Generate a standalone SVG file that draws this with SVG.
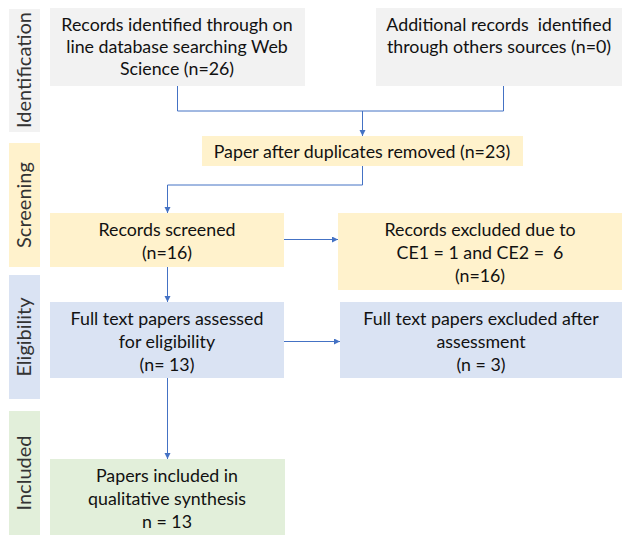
<svg xmlns="http://www.w3.org/2000/svg" width="624" height="536" viewBox="0 0 624 536">
<style>
text{font-family:Lato,"Liberation Sans",sans-serif;font-size:17.8px;fill:#111;text-anchor:middle;white-space:pre}
.side{fill:#333;font-size:20px}
.gray{fill:#f2f2f2}.yel{fill:#fff2cc}.blu{fill:#dae3f3}.grn{fill:#e2efda}
.con{fill:none;stroke:#4472c4;stroke-width:1}
</style>
<defs>
<marker id="ah" markerWidth="8" markerHeight="8" refX="6" refY="3" orient="auto" markerUnits="userSpaceOnUse">
<path d="M0,0 L6,3 L0,6 Z" fill="#4472c4"/>
</marker>
</defs>
<rect width="624" height="536" fill="#fff"/>
<g id="stage-identification"><rect class="gray" x="9" y="9" width="31" height="123"/><text class="side" transform="translate(31,70) rotate(-90)">Identification</text></g>
<g id="stage-screening"><rect class="yel" x="9" y="143" width="31" height="124"/><text class="side" transform="translate(31,205) rotate(-90)">Screening</text></g>
<g id="stage-eligibility"><rect class="blu" x="9" y="275" width="31" height="124"/><text class="side" transform="translate(31,337) rotate(-90)">Eligibility</text></g>
<g id="stage-included"><rect class="grn" x="9" y="411" width="31" height="124"/><text class="side" transform="translate(31,473) rotate(-90)">Included</text></g>

<g id="n1"><rect class="gray" x="50" y="8" width="255" height="78"/>
<text x="177" y="31">Records identified through on</text>
<text x="177" y="53">line database searching Web</text>
<text x="177" y="75">Science (n=26)</text></g>
<g id="n2"><rect class="gray" x="376" y="8" width="246" height="78"/>
<text x="499" y="31" xml:space="preserve">Additional records  identified</text>
<text x="499" y="53">through others sources (n=0)</text></g>
<g id="n3"><rect class="yel" x="202" y="136" width="321" height="30"/>
<text x="362" y="158">Paper after duplicates removed (n=23)</text></g>
<g id="n4"><rect class="yel" x="50" y="213" width="234" height="54"/>
<text x="167" y="236">Records screened</text>
<text x="167" y="259">(n=16)</text></g>
<g id="n5"><rect class="yel" x="338" y="213" width="284" height="77"/>
<text x="480" y="236">Records excluded due to</text>
<text x="480" y="259" xml:space="preserve">CE1 = 1 and CE2 =  6</text>
<text x="480" y="282">(n=16)</text></g>
<g id="n6"><rect class="blu" x="50" y="302" width="234" height="76"/>
<text x="167" y="325">Full text papers assessed</text>
<text x="167" y="348">for eligibility</text>
<text x="167" y="371">(n= 13)</text></g>
<g id="n7"><rect class="blu" x="340" y="302" width="282" height="76"/>
<text x="481" y="325">Full text papers excluded after</text>
<text x="481" y="348">assessment</text>
<text x="481" y="371">(n = 3)</text></g>
<g id="n8"><rect class="grn" x="50" y="459" width="235" height="76"/>
<text x="167" y="482">Papers included in</text>
<text x="167" y="505">qualitative synthesis</text>
<text x="167" y="528">n = 13</text></g>

<g id="connectors">
<path class="con" d="M177.5,86 V111 H503.5 V86"/>
<path class="con" d="M362.5,111 V136" marker-end="url(#ah)"/>
<path class="con" d="M362.5,166 V185 H167.5 V213" marker-end="url(#ah)"/>
<path class="con" d="M284,239.5 H338" marker-end="url(#ah)"/>
<path class="con" d="M167.5,267 V302" marker-end="url(#ah)"/>
<path class="con" d="M284,341.5 H340" marker-end="url(#ah)"/>
<path class="con" d="M167.5,378 V459" marker-end="url(#ah)"/>
</g>
</svg>
